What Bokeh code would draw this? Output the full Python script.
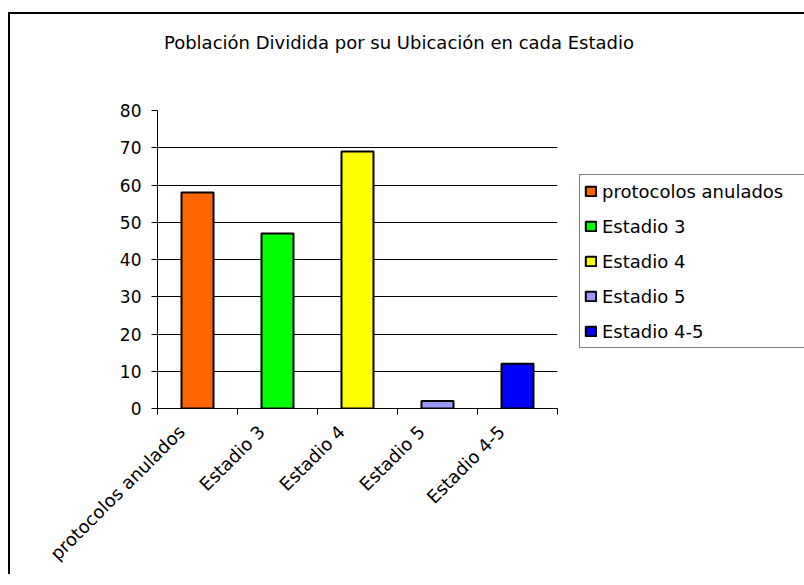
import math
from bokeh.plotting import figure
from bokeh.models import FixedTicker, Legend, LegendItem, ColumnDataSource, Div
from bokeh.layouts import column
from bokeh.embed import file_html
from bokeh.resources import INLINE

categories = ["protocolos anulados", "Estadio 3", "Estadio 4", "Estadio 5", "Estadio 4-5"]
values = [58, 47, 69, 2, 12]
colors = ["#FF6600", "#00FF00", "#FFFF00", "#9999FF", "#0000FF"]
y_ticks = [0, 10, 20, 30, 40, 50, 60, 70, 80]
title_text = "Población Dividida por su Ubicación en cada Estadio"

FONT = "DejaVu Sans"
LABEL_SHIFT = 0.2  # rotated labels end slightly left of the category centre (Excel style)

xs = [i + 0.5 for i in range(len(categories))]
label_pos = [x - LABEL_SHIFT for x in xs]
src = ColumnDataSource(dict(x=xs, top=values, color=colors, cat=categories))

p = figure(frame_width=400, frame_height=298, x_range=(0, len(categories)), y_range=(0, 80),
           output_backend="svg", toolbar_location=None,
           min_border_left=147, min_border_right=231, min_border_top=16, min_border_bottom=161)
p.outline_line_color = None
p.background_fill_color = "white"
p.border_fill_color = "white"

r = p.vbar(x="x", top="top", width=0.4, source=src, fill_color="color",
           line_color="black", line_width=2)

# x axis: boundary ticks as minor ticks, category names as (tick-less) major labels
p.xaxis.ticker = FixedTicker(ticks=label_pos, minor_ticks=list(range(len(categories) + 1)))
p.xaxis.major_label_overrides = {x: c for x, c in zip(label_pos, categories)}
p.xaxis.major_tick_line_color = None
p.xaxis.minor_tick_line_color = "black"
p.xaxis.minor_tick_out = 6
p.xaxis.minor_tick_in = 0
p.xaxis.axis_line_color = "black"
p.xaxis.major_label_orientation = math.pi / 4
p.xaxis.major_label_text_font = FONT
p.xaxis.major_label_text_font_size = "18px"
p.xaxis.major_label_text_color = "black"
p.xaxis.major_label_standoff = 14

# y axis
p.yaxis.ticker = FixedTicker(ticks=y_ticks)
p.yaxis.major_tick_out = 6
p.yaxis.major_tick_in = 0
p.yaxis.minor_tick_line_color = None
p.yaxis.axis_line_color = "black"
p.yaxis.major_tick_line_color = "black"
p.yaxis.major_label_text_font = FONT
p.yaxis.major_label_text_font_size = "17px"
p.yaxis.major_label_text_color = "black"
p.yaxis.major_label_standoff = 10

p.xgrid.visible = False
p.ygrid.ticker = FixedTicker(ticks=y_ticks[1:-1])
p.ygrid.grid_line_color = "black"
p.ygrid.grid_line_width = 1

items = [LegendItem(label=c, renderers=[r], index=i) for i, c in enumerate(categories)]
legend = Legend(items=items, location=(22, 60), orientation="vertical",
                glyph_width=13, glyph_height=12, label_standoff=5, padding=4, spacing=11,
                label_height=24, label_width=205, label_text_font=FONT, label_text_font_size="18px",
                label_text_color="black", border_line_color="black", border_line_width=1,
                background_fill_color="white", background_fill_alpha=1, margin=0)
p.add_layout(legend, "right")

title_div = Div(text='<div style="padding-top:16px">' + title_text + '</div>',
                width=778, height=80, margin=0,
                styles={"text-align": "center", "font-family": FONT, "font-size": "18px",
                        "color": "black"})

layout = column(title_div, p, spacing=0,
                styles={"margin-top": "12px", "margin-left": "8px",
                        "border-top": "2px solid black", "border-left": "2px solid black"})

open("out.html", "w").write(file_html(layout, INLINE))
